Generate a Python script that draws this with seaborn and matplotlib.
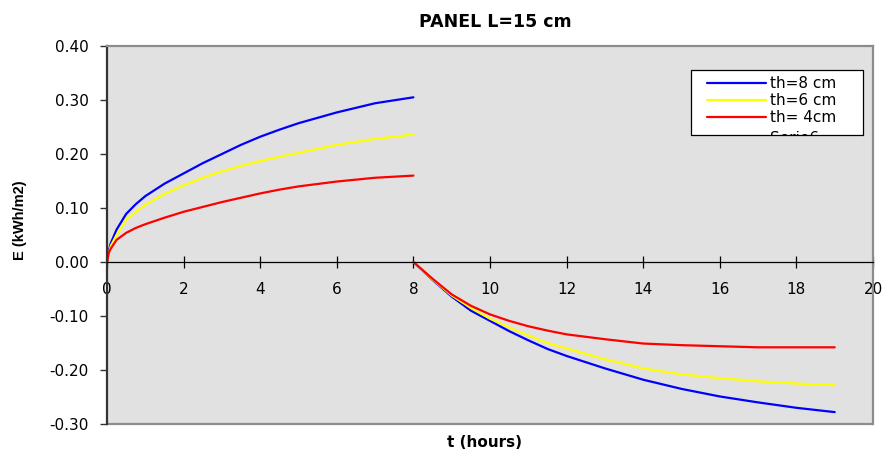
import numpy as np
import pandas as pd
import matplotlib
matplotlib.use("Agg")
import matplotlib.pyplot as plt
import seaborn as sns
from matplotlib.patches import Rectangle
from matplotlib.transforms import Bbox, TransformedBbox
from matplotlib.ticker import FormatStrFormatter

# datos: fase de carga (0-8 h) y descarga (8-19 h)
t_heat = [0, 0.05, 0.1, 0.25, 0.5, 0.75, 1, 1.5, 2, 2.5, 3, 3.5, 4, 4.5, 5, 6, 7, 8]
e8_heat = [0, 0.022, 0.035, 0.060, 0.089, 0.107, 0.122, 0.145, 0.164, 0.183, 0.200, 0.217, 0.232, 0.245, 0.257, 0.277, 0.294, 0.305]
e6_heat = [0, 0.018, 0.030, 0.050, 0.078, 0.093, 0.106, 0.126, 0.142, 0.156, 0.168, 0.178, 0.187, 0.195, 0.202, 0.217, 0.228, 0.236]
e4_heat = [0, 0.018, 0.025, 0.041, 0.054, 0.063, 0.070, 0.082, 0.093, 0.102, 0.111, 0.119, 0.127, 0.134, 0.140, 0.149, 0.156, 0.160]

t_cool = [8, 8.5, 9, 9.5, 10, 10.5, 11, 11.5, 12, 13, 14, 15, 16, 17, 18, 19]
e8_cool = [0, -0.033, -0.064, -0.090, -0.109, -0.128, -0.145, -0.161, -0.174, -0.197, -0.218, -0.235, -0.249, -0.260, -0.270, -0.278]
e6_cool = [0, -0.032, -0.062, -0.085, -0.105, -0.121, -0.136, -0.150, -0.160, -0.180, -0.197, -0.208, -0.215, -0.221, -0.225, -0.228]
e4_cool = [0, -0.031, -0.060, -0.081, -0.097, -0.109, -0.119, -0.127, -0.134, -0.143, -0.151, -0.154, -0.156, -0.158, -0.158, -0.158]

series = ['th=8 cm', 'th=6 cm', 'th= 4cm']
colors = ['#0000FF', '#FFFF00', '#FF0000']
x_ticks = [0, 2, 4, 6, 8, 10, 12, 14, 16, 18, 20]
y_ticks = [-0.3, -0.2, -0.1, 0.0, 0.1, 0.2, 0.3, 0.4]

# tabla larga para seaborn
rows = []
for name, heat, cool in zip(series, [e8_heat, e6_heat, e4_heat], [e8_cool, e6_cool, e4_cool]):
    for t, e in zip(t_heat, heat):
        rows.append({'t': t, 'E': e, 'serie': name, 'tramo': 'carga'})
    for t, e in zip(t_cool, cool):
        rows.append({'t': t, 'E': e, 'serie': name, 'tramo': 'descarga'})
df = pd.DataFrame(rows)

sns.set_style('white')
plt.rcParams['font.family'] = ['DejaVu Sans']
plt.rcParams['axes.unicode_minus'] = False
plt.rcParams['text.color'] = 'black'
plt.rcParams['axes.labelcolor'] = 'black'
plt.rcParams['xtick.color'] = 'black'
plt.rcParams['ytick.color'] = 'black'

fig = plt.figure(figsize=(8.83, 4.54), dpi=100, facecolor='white')
ax = fig.add_axes([107 / 883, 30 / 454, 766 / 883, 378 / 454])
ax.set_facecolor('#E1E1E1')

sns.lineplot(data=df, x='t', y='E', hue='serie', units='tramo', estimator=None,
             sort=False, palette=colors, hue_order=series, linewidth=1.6,
             legend=False, ax=ax)

ax.set_xlim(0, 20)
ax.set_ylim(-0.3, 0.4)
ax.set_xticks(x_ticks)
ax.set_yticks(y_ticks)
ax.yaxis.set_major_formatter(FormatStrFormatter('%.2f'))

# marco estilo Excel
for s in ['top', 'right']:
    ax.spines[s].set_color('#8C8C8C')
    ax.spines[s].set_linewidth(1.6)
ax.spines['left'].set_color('#333333')
ax.spines['left'].set_linewidth(1.6)
ax.spines['bottom'].set_position(('data', 0))
ax.spines['bottom'].set_color('black')
ax.spines['bottom'].set_linewidth(0.9)
ax.plot([0, 1], [0, 0], transform=ax.transAxes, color='#8C8C8C', lw=1.6, clip_on=False)

ax.tick_params(axis='x', direction='inout', length=8.5, width=0.9, colors='black',
               pad=10, labelsize=11, bottom=True)
ax.tick_params(axis='y', direction='out', length=5, width=1, color='#333333',
               labelcolor='black', pad=8, labelsize=11, left=True)

ax.set_xlabel('t (hours)', fontsize=11, fontweight='bold')
ax.xaxis.set_label_coords(0.493, -0.03)
ax.set_ylabel('E (kWh/m2)', fontsize=10.5, fontweight='bold', family='Liberation Sans')
ax.yaxis.set_label_coords(-0.104, 0.54)

fig.text(495 / 883, 1 - 27 / 454, 'PANEL L=15 cm', ha='center', va='baseline',
         fontsize=12.5, fontweight='bold')

# leyenda recortada como en el original
lx0, ly0, lx1, ly1 = 0.762, 0.764, 0.987, 0.936
box = Rectangle((lx0, ly0), lx1 - lx0, ly1 - ly0, transform=ax.transAxes,
                facecolor='white', edgecolor='black', lw=0.9, zorder=5)
ax.add_patch(box)
row_y = [0.902, 0.857, 0.812]
for name, col, yy in zip(series, colors, row_y):
    ax.plot([0.783, 0.860], [yy, yy], transform=ax.transAxes, color=col, lw=1.6, zorder=6)
    ax.text(0.866, yy, name, transform=ax.transAxes, va='center', ha='left',
            fontsize=11, zorder=6)
t6 = ax.text(0.866, 0.755, 'Serie6', transform=ax.transAxes, va='center', ha='left',
             fontsize=11, zorder=6)
t6.set_clip_on(True)
t6.set_clip_box(TransformedBbox(Bbox([[lx0, ly0], [lx1, ly1]]), ax.transAxes))

plt.savefig('out.png', dpi=100, facecolor='white')
